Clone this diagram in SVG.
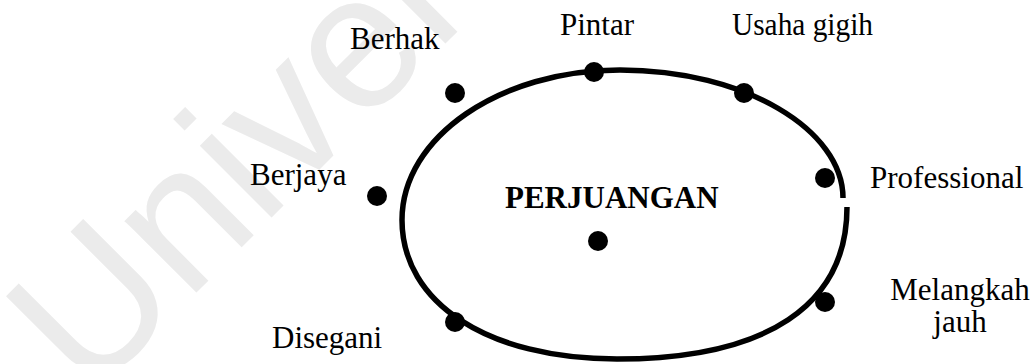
<svg xmlns="http://www.w3.org/2000/svg" width="1036" height="364" viewBox="0 0 1036 364">
  <style>
    .lbl { font-family: "Liberation Serif", "Times New Roman", serif; font-size: 31px; fill: #000; }
    .title { font-family: "Liberation Serif", "Times New Roman", serif; font-size: 31px; font-weight: bold; fill: #000; }
    .dot { fill: #000; }
    .ring { fill: none; stroke: #000; stroke-width: 5.5; }
    .wm { font-family: "Liberation Sans", Arial, sans-serif; font-size: 192px; fill: #ebebeb; }
  </style>
  <rect width="1036" height="364" fill="#fff"/>
  <text class="wm" x="89" y="400" transform="rotate(-45 89 400)">Univer</text>

  <g id="ring">
    <path class="ring" d="M847,207 C847,305 767,359 617,359 C488,359 402,303 402,220 C402,137 500,70 620,70 C745,70 843,130 843,198"/>
  </g>

  <g id="center">
    <text class="title" x="505" y="208">PERJUANGAN</text>
    <circle class="dot" cx="598" cy="241" r="10"/>
  </g>
  <g id="pintar">
    <text class="lbl" x="560" y="35">Pintar</text>
    <circle class="dot" cx="594" cy="72" r="10"/>
  </g>
  <g id="usaha-gigih">
    <text class="lbl" x="732" y="35" textLength="141" lengthAdjust="spacingAndGlyphs">Usaha gigih</text>
    <circle class="dot" cx="744" cy="93" r="10"/>
  </g>
  <g id="berhak">
    <text class="lbl" x="350" y="49">Berhak</text>
    <circle class="dot" cx="455" cy="93" r="10"/>
  </g>
  <g id="berjaya">
    <text class="lbl" x="250" y="185">Berjaya</text>
    <circle class="dot" cx="377" cy="196" r="10"/>
  </g>
  <g id="professional">
    <text class="lbl" x="870" y="188">Professional</text>
    <circle class="dot" cx="825" cy="178" r="10"/>
  </g>
  <g id="melangkah-jauh">
    <text class="lbl" x="960" y="300" text-anchor="middle">Melangkah</text>
    <text class="lbl" x="960" y="332" text-anchor="middle">jauh</text>
    <circle class="dot" cx="825" cy="302" r="10"/>
  </g>
  <g id="disegani">
    <text class="lbl" x="272" y="348">Disegani</text>
    <circle class="dot" cx="455" cy="322" r="10"/>
  </g>
  <g id="connectors"></g>
</svg>
